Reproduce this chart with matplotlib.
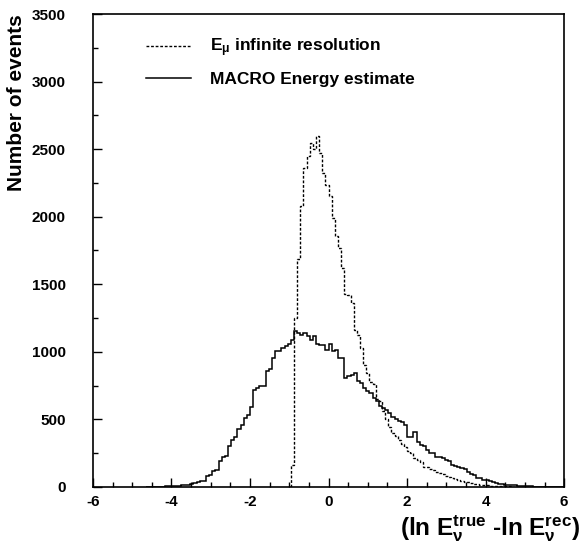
import numpy as np
import matplotlib
matplotlib.use("Agg")
import matplotlib.pyplot as plt
from matplotlib.lines import Line2D

plt.rcParams["font.family"] = ["Liberation Sans", "DejaVu Sans"]
plt.rcParams["font.weight"] = "bold"
plt.rcParams["mathtext.fontset"] = "custom"
plt.rcParams["mathtext.rm"] = "Liberation Sans:bold"
plt.rcParams["mathtext.it"] = "Liberation Sans:bold"
plt.rcParams["mathtext.bf"] = "Liberation Sans:bold"
plt.rcParams["mathtext.default"] = "rm"
plt.rcParams["axes.unicode_minus"] = False

# histogram binning (width 0.08)
bin_width = 0.08
mu_start = -0.96     # E_mu infinite resolution, first non-empty bin
macro_start = -4.64  # MACRO energy estimate, first non-empty bin

mu_counts = [160, 1250, 1685, 2080, 2360, 2450, 2545, 2500, 2600, 2470,
             2320, 2235, 2150, 1990, 1855, 1765, 1620, 1430, 1420, 1360,
             1165, 1125, 1030, 900, 845, 780, 760, 650, 640, 560, 500, 446,
             400, 380, 347, 320, 298, 270, 249, 212, 200, 187,
             150, 145, 135, 128, 110, 100, 95, 85, 75, 68,
             62, 52, 45, 38, 34, 28, 24, 20, 17, 14,
             12, 10, 8, 7, 6, 5, 4, 4, 3, 3, 2, 2, 1, 1]

macro_counts = [1, 1, 2, 2, 3, 3, 4, 5,
                6, 7, 9, 12, 15, 18, 24, 27, 40, 42, 45, 78, 90, 120, 128,
                190, 220, 230, 300, 350, 370, 430, 460, 510, 530,
                590, 715, 730, 745, 750, 855, 870, 955, 1005, 1010, 1030, 1040, 1055,
                1090, 1152, 1140, 1127, 1140, 1115, 1090, 1115, 1060, 1053, 1053, 1016,
                1060, 1004, 1016, 955, 955, 806, 819, 831, 843, 782, 770, 733,
                708, 696, 659, 634, 597, 585, 572,
                545, 520, 500, 492, 483, 459, 372, 372, 409, 335,
                311, 305, 274, 255, 249, 225, 220, 212, 200, 195,
                163, 155, 150, 138, 130, 113, 95, 89, 70, 64,
                55, 52, 42, 39, 30, 22, 22, 18, 15, 15,
                12, 10, 8, 7, 6, 5, 3, 2, 2, 2, 1, 1, 1, 1, 0, 0]

labels = [r"E$_{\mathrm{μ}}$ infinite resolution", "MACRO Energy estimate"]
xticks = [-6, -4, -2, 0, 2, 4, 6]
yticks = [0, 500, 1000, 1500, 2000, 2500, 3000, 3500]

mu_edges = np.round(mu_start + bin_width * np.arange(len(mu_counts) + 1), 3)
macro_edges = np.round(macro_start + bin_width * np.arange(len(macro_counts) + 1), 3)

fig = plt.figure(figsize=(5.81, 5.47), dpi=100)
ax = fig.add_axes([0.160, 0.1097, 0.811, 0.8647])

dash = (0, (2.0, 1.3))
ax.stairs(mu_counts, mu_edges, color="black", linewidth=1.0, linestyle=dash, baseline=0)
ax.stairs(macro_counts, macro_edges, color="black", linewidth=1.1, baseline=0)

ax.set_xlim(-6, 6)
ax.set_ylim(0, 3500)
ax.set_xticks(xticks)
ax.set_yticks(yticks)
ax.xaxis.set_minor_locator(plt.MultipleLocator(0.5))
ax.yaxis.set_minor_locator(plt.MultipleLocator(250))
ax.tick_params(which="both", direction="in", top=False, right=False, width=1.0)
ax.tick_params(which="major", length=6.5)
ax.tick_params(which="minor", length=3.6)
ax.tick_params(axis="x", which="major", pad=6, labelsize=11)
ax.tick_params(axis="y", which="major", pad=19.5, labelsize=11)
for lab in ax.get_xticklabels() + ax.get_yticklabels():
    lab.set_fontweight("bold")
for sp in ax.spines.values():
    sp.set_linewidth(1.2)

ax.set_ylabel("Number of events", fontsize=15, fontweight="bold", loc="top")
ax.yaxis.set_label_coords(-0.142, 1.0)
ax.set_xlabel(r"(ln $E_{ν}^{true}$ -ln $E_{ν}^{rec}$)", fontsize=17.5, fontweight="bold", loc="right")
ax.xaxis.set_label_coords(1.034, -0.055)

handles = [Line2D([], [], color="black", linewidth=1.0, linestyle=dash),
           Line2D([], [], color="black", linewidth=1.1)]
ax.legend(handles, labels, loc="upper left", bbox_to_anchor=(0.079, 0.985),
          frameon=False, handlelength=2.6, handletextpad=1.1,
          labelspacing=0.75, prop={"weight": "bold", "size": 12.5})

fig.savefig("out.png", dpi=100)
